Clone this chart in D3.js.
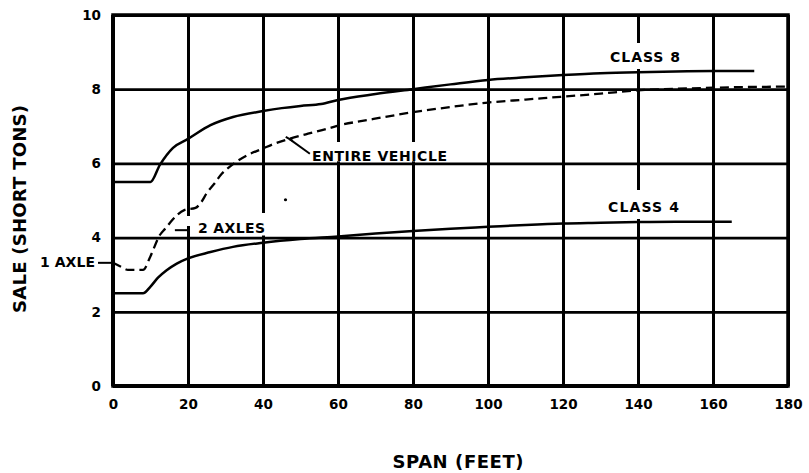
<!DOCTYPE html>
<html>
<head>
<meta charset="utf-8">
<script src="https://cdn.jsdelivr.net/npm/d3@7"></script>
<style>
  html, body { margin: 0; padding: 0; background: #fff; }
  svg { display: block; }
  text { font-family: "DejaVu Sans", "Liberation Sans", Arial, sans-serif; font-weight: bold; fill: #000; }
</style>
</head>
<body>
<svg id="chart" width="809" height="473"></svg>
<script>
// Axis ticks
const xTicks = [0, 20, 40, 60, 80, 100, 120, 140, 160, 180];
const yTicks = [0, 2, 4, 6, 8, 10];

// Safe load (short tons) against span (feet)
const class8 = [
  [0, 5.5], [10, 5.5], [12.5, 5.96], [16, 6.42], [20, 6.66], [26, 7.03], [32, 7.25],
  [40, 7.41], [45, 7.49], [50, 7.55], [55.5, 7.6], [60, 7.71], [70, 7.87], [80, 8.0],
  [90, 8.13], [100, 8.25], [110, 8.32], [120, 8.38], [130, 8.43], [140, 8.46],
  [150, 8.48], [160, 8.49], [171, 8.49]
];
const entireVehicle = [
  [0, 3.32], [2, 3.22], [4, 3.13], [8, 3.13], [10, 3.5], [12.5, 4.07], [13.9, 4.24],
  [15.2, 4.4], [17, 4.6], [19, 4.74], [22, 4.8], [23.5, 4.95], [25, 5.2], [27, 5.45],
  [29, 5.72], [31, 5.9], [33, 6.05], [36, 6.23], [40, 6.4], [43, 6.53], [47, 6.66],
  [52, 6.8], [57, 6.93], [60.5, 7.03], [68, 7.17], [80, 7.38], [90, 7.52], [100, 7.64],
  [110, 7.72], [120, 7.8], [130, 7.88], [140, 7.97], [150, 8.01], [160, 8.04],
  [170, 8.06], [180, 8.07]
];
const class4 = [
  [0, 2.5], [8, 2.5], [10, 2.68], [12, 2.92], [14.3, 3.12], [17, 3.3], [20, 3.44],
  [26, 3.61], [32, 3.75], [40, 3.86], [50, 3.96], [60, 4.03], [70, 4.11], [80, 4.18],
  [90, 4.24], [100, 4.29], [110, 4.34], [120, 4.38], [130, 4.4], [140, 4.42],
  [150, 4.43], [165, 4.43]
];
const strayMark = [[46, 5.02]];

const svg = d3.select("#chart");
const x = d3.scaleLinear().domain([0, 180]).range([113, 788]);
const y = d3.scaleLinear().domain([0, 10]).range([386, 15]);

// Grid lines through the axis generators
svg.append("g")
  .attr("transform", `translate(0,${y(0)})`)
  .call(d3.axisBottom(x).tickValues(xTicks).tickSize(-(y(0) - y(10))).tickFormat(""))
  .call(g => g.select(".domain").remove())
  .call(g => g.selectAll(".tick line").attr("stroke", "#000").attr("stroke-width", 3));

svg.append("g")
  .attr("transform", `translate(${x(0)},0)`)
  .call(d3.axisLeft(y).tickValues(yTicks).tickSize(-(x(180) - x(0))).tickFormat(""))
  .call(g => g.select(".domain").remove())
  .call(g => g.selectAll(".tick line").attr("stroke", "#000").attr("stroke-width", 2.8));

// Breaks in the grid around the annotations
const breaks = [
  { x0: 600, x1: 690, y0: 43, y1: 69 },     // CLASS 8
  { x0: 600, x1: 690, y0: 190, y1: 219 },   // CLASS 4
  { x0: 305, x1: 452, y0: 142, y1: 161.3 }, // ENTIRE VEHICLE
  { x0: 257, x1: 270, y0: 213, y1: 235.5 }, // beside 2 AXLES
  { x0: 183, x1: 193, y0: 216, y1: 226 }
];
svg.append("g").selectAll("rect").data(breaks).join("rect")
  .attr("x", d => d.x0).attr("y", d => d.y0)
  .attr("width", d => d.x1 - d.x0).attr("height", d => d.y1 - d.y0)
  .attr("fill", "#fff");

// Frame
svg.append("rect")
  .attr("x", x(0)).attr("y", y(10))
  .attr("width", x(180) - x(0)).attr("height", y(0) - y(10))
  .attr("fill", "none").attr("stroke", "#000").attr("stroke-width", 3.5);
svg.append("line")
  .attr("x1", x(0)).attr("x2", x(0)).attr("y1", y(10)).attr("y2", y(0))
  .attr("stroke", "#000").attr("stroke-width", 4);
svg.append("line")
  .attr("x1", x(0)).attr("x2", x(180)).attr("y1", y(0)).attr("y2", y(0))
  .attr("stroke", "#000").attr("stroke-width", 4);

// Tick labels
svg.append("g")
  .attr("transform", `translate(0,${y(0)})`)
  .call(d3.axisBottom(x).tickValues(xTicks).tickSize(0).tickPadding(13).tickFormat(d3.format("d")))
  .call(g => g.select(".domain").remove())
  .call(g => g.selectAll("text").attr("font-size", 13.5).attr("font-family", null).attr("fill", "#000"));

svg.append("g")
  .attr("transform", `translate(${x(0)},0)`)
  .call(d3.axisLeft(y).tickValues(yTicks).tickSize(0).tickPadding(12).tickFormat(d3.format("d")))
  .call(g => g.select(".domain").remove())
  .call(g => g.selectAll("text").attr("font-size", 13.5).attr("font-family", null).attr("fill", "#000"));

// Curves
const line = d3.line().x(d => x(d[0])).y(d => y(d[1])).curve(d3.curveMonotoneX);

svg.append("path").datum(class8)
  .attr("d", line).attr("fill", "none").attr("stroke", "#000").attr("stroke-width", 2.5);
svg.append("path").datum(class4)
  .attr("d", line).attr("fill", "none").attr("stroke", "#000").attr("stroke-width", 2.5);
svg.append("path").datum(entireVehicle)
  .attr("d", line).attr("fill", "none").attr("stroke", "#000").attr("stroke-width", 2.3)
  .attr("stroke-dasharray", "9,5");

svg.append("g").selectAll("circle").data(strayMark).join("circle")
  .attr("cx", d => x(d[0])).attr("cy", d => y(d[1])).attr("r", 1.6).attr("fill", "#000");

// Leader lines
const leaders = svg.append("g").attr("stroke", "#000").attr("stroke-width", 2).attr("fill", "none");
leaders.append("line")
  .attr("x1", x(0) - 15).attr("x2", x(0)).attr("y1", y(3.32)).attr("y2", y(3.32));
leaders.append("line")
  .attr("x1", x(16.5)).attr("x2", x(20.5)).attr("y1", y(4.2)).attr("y2", y(4.2));
leaders.append("line")
  .attr("x1", x(47)).attr("x2", x(52.5)).attr("y1", y(6.66)).attr("y2", y(6.26));
leaders.append("line")
  .attr("x1", x(47) - 3.5).attr("x2", x(47) + 3.5).attr("y1", y(6.66) - 2).attr("y2", y(6.66) + 2);

// Annotations
const notes = [
  { text: "CLASS 8", x: 645, y: 62, anchor: "middle", len: 70 },
  { text: "CLASS 4", x: 643.5, y: 212, anchor: "middle", len: 71 },
  { text: "ENTIRE VEHICLE", x: 312, y: 161, anchor: "start", len: 135 },
  { text: "2 AXLES", x: 198, y: 233, anchor: "start", len: 67 },
  { text: "1 AXLE", x: 40, y: 267, anchor: "start", len: 55 }
];
svg.append("g").selectAll("text").data(notes).join("text")
  .attr("x", d => d.x).attr("y", d => d.y)
  .attr("text-anchor", d => d.anchor)
  .attr("font-size", 14)
  .attr("textLength", d => d.len)
  .attr("lengthAdjust", "spacing")
  .text(d => d.text);

// Axis titles
svg.append("text")
  .attr("x", 458).attr("y", 468)
  .attr("text-anchor", "middle")
  .attr("font-size", 18)
  .attr("textLength", 131).attr("lengthAdjust", "spacing")
  .text("SPAN (FEET)");

svg.append("text")
  .attr("transform", "translate(26,209) rotate(-90)")
  .attr("text-anchor", "middle")
  .attr("font-size", 18)
  .attr("textLength", 208).attr("lengthAdjust", "spacing")
  .text("SALE (SHORT TONS)");
</script>
</body>
</html>
